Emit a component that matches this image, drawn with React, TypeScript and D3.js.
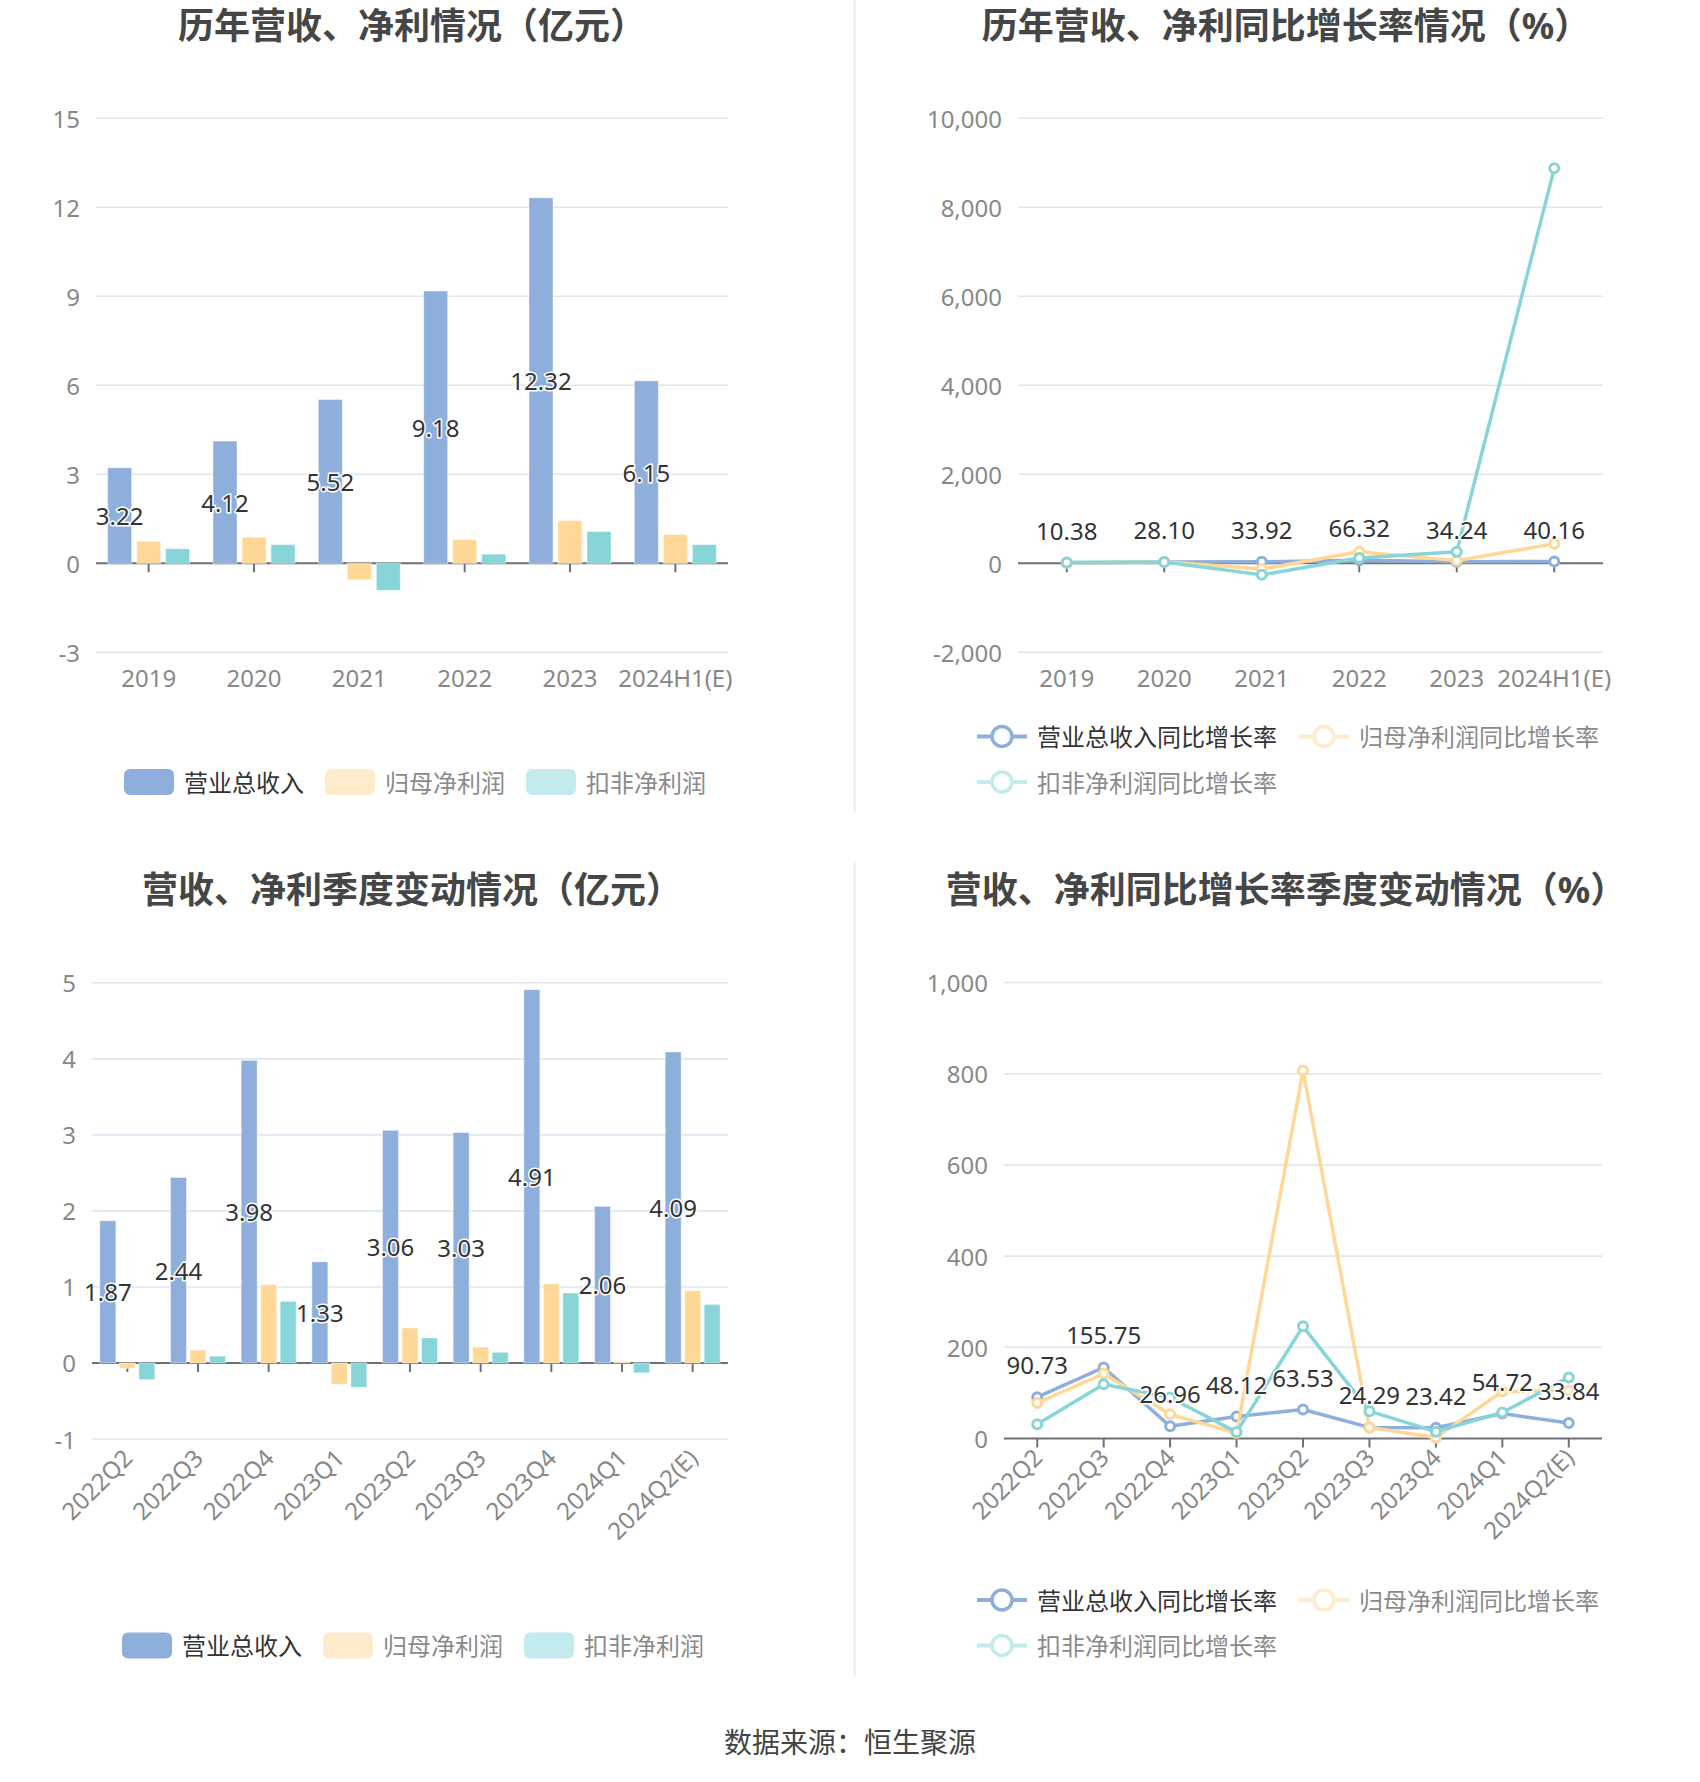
import React from 'react';
import * as d3 from 'd3';

// ---------- data ----------
const yearCats = ['2019', '2020', '2021', '2022', '2023', '2024H1(E)'];
const yearRevenue = [3.22, 4.12, 5.52, 9.18, 12.32, 6.15];
const yearNetProfit = [0.74, 0.88, -0.55, 0.8, 1.44, 0.97];
const yearDeductedProfit = [0.49, 0.63, -0.91, 0.31, 1.07, 0.63];

const yearRevenueGrowth = [10.38, 28.1, 33.92, 66.32, 34.24, 40.16];
const yearNetProfitGrowth = [15, 35, -130, 260, 60, 440];
const yearDeductedGrowth = [20, 30, -260, 120, 260, 8876];

const quarterCats = ['2022Q2', '2022Q3', '2022Q4', '2023Q1', '2023Q2', '2023Q3', '2023Q4', '2024Q1', '2024Q2(E)'];
const quarterRevenue = [1.87, 2.44, 3.98, 1.33, 3.06, 3.03, 4.91, 2.06, 4.09];
const quarterNetProfit = [-0.07, 0.17, 1.03, -0.28, 0.46, 0.21, 1.04, 0.02, 0.95];
const quarterDeductedProfit = [-0.22, 0.09, 0.81, -0.32, 0.33, 0.14, 0.92, -0.13, 0.77];

const quarterRevenueGrowth = [90.73, 155.75, 26.96, 48.12, 63.53, 24.29, 23.42, 54.72, 33.84];
const quarterNetProfitGrowth = [78, 142, 53, 12, 807, 24, 2, 103, 105];
const quarterDeductedGrowth = [31, 119, 90, 14, 246, 60, 15, 57, 134];

const barLegend = ['营业总收入', '归母净利润', '扣非净利润'];
const lineLegend = ['营业总收入同比增长率', '归母净利润同比增长率', '扣非净利润同比增长率'];

const yearBarTicks = [-3, 0, 3, 6, 9, 12, 15];
const yearLineTicks = [-2000, 0, 2000, 4000, 6000, 8000, 10000];
const quarterBarTicks = [-1, 0, 1, 2, 3, 4, 5];
const quarterLineTicks = [0, 200, 400, 600, 800, 1000];

const titles = [
  '历年营收、净利情况（亿元）',
  '历年营收、净利同比增长率情况（%）',
  '营收、净利季度变动情况（亿元）',
  '营收、净利同比增长率季度变动情况（%）',
];
const sourceText = '数据来源：恒生聚源';

// ---------- style ----------
const COLORS = ['#8eaedb', '#ffd897', '#87d5d8'];
const LEGEND_ICON = ['#8eaedb', '#ffebcc', '#c3eaec'];
const LEGEND_TEXT = ['#333333', '#8a8a8a', '#8a8a8a'];
const FONT = "'Noto Sans', 'Noto Sans CJK SC', sans-serif";
const GRID = '#e0e6f1';
const AXIS = '#6e7079';
const LABEL = '#888888';

const loc = d3.formatLocale({ decimal: '.', thousands: ',', grouping: [3], currency: ['', ''], minus: '-' });
const fmtComma = loc.format(',');
const fmtPlain = loc.format('');
const fmt2 = loc.format('.2f');

type Geo = {
  x0: number; x1: number; yTop: number; yBottom: number;
  title: string; titleX: number; titleY: number;
  rotate: boolean;
};

function Title({ text, x, y }: { text: string; x: number; y: number }) {
  return (
    <text x={x} y={y} textAnchor="middle" dominantBaseline="central" fontSize={36} fontWeight={700}
      fill="#464646" fontFamily={FONT}>{text}</text>
  );
}

function XLabels({ cats, xc, yBottom, rotate }: { cats: string[]; xc: (c: string) => number; yBottom: number; rotate: boolean }) {
  return (
    <g>
      {cats.map((c) =>
        rotate ? (
          <text key={c} transform={`translate(${xc(c)},${yBottom + 14}) rotate(-45)`} textAnchor="end"
            dominantBaseline="central" fontSize={24} fill={LABEL} fontFamily={FONT}>{c}</text>
        ) : (
          <text key={c} x={xc(c)} y={yBottom + 25} textAnchor="middle" dominantBaseline="central"
            fontSize={24} fill={LABEL} fontFamily={FONT}>{c}</text>
        )
      )}
    </g>
  );
}

function YGrid({ ticks, y, x0, x1, fmt }: { ticks: number[]; y: d3.ScaleLinear<number, number>; x0: number; x1: number; fmt: (n: number) => string }) {
  return (
    <g>
      {ticks.map((t) => (
        <g key={t}>
          <line x1={x0} x2={x1} y1={y(t)} y2={y(t)} stroke={GRID} strokeWidth={1.6} />
          <text x={x0 - 16} y={y(t)} textAnchor="end" dominantBaseline="central" fontSize={24}
            fill={LABEL} fontFamily={FONT}>{fmt(t)}</text>
        </g>
      ))}
    </g>
  );
}

function BarLegend({ cx, cy }: { cx: number; cy: number }) {
  const iconW = 50, iconH = 26, pad = 10, gap = 21, fs = 24;
  const widths = barLegend.map((s) => iconW + pad + s.length * fs);
  const total = d3.sum(widths) + gap * (widths.length - 1);
  let x = cx - total / 2;
  return (
    <g>
      {barLegend.map((s, i) => {
        const x0 = x;
        x += widths[i] + gap;
        return (
          <g key={s}>
            <rect x={x0} y={cy - iconH / 2} width={iconW} height={iconH} rx={6} fill={LEGEND_ICON[i]} />
            <text x={x0 + iconW + pad} y={cy} dominantBaseline="central" fontSize={fs} fill={LEGEND_TEXT[i]}
              fontFamily={FONT}>{s}</text>
          </g>
        );
      })}
    </g>
  );
}

function LineLegend({ left, cy }: { left: number; cy: number }) {
  const iconW = 50, pad = 10, gap = 22, fs = 24, rowH = 45.5;
  const pos = [
    { x: left, y: cy },
    { x: left + iconW + pad + lineLegend[0].length * fs + gap, y: cy },
    { x: left, y: cy + rowH },
  ];
  return (
    <g>
      {lineLegend.map((s, i) => (
        <g key={s}>
          <line x1={pos[i].x} x2={pos[i].x + iconW} y1={pos[i].y} y2={pos[i].y} stroke={LEGEND_ICON[i]} strokeWidth={4} />
          <circle cx={pos[i].x + iconW / 2} cy={pos[i].y} r={10} fill="#fff" stroke={LEGEND_ICON[i]} strokeWidth={3.5} />
          <text x={pos[i].x + iconW + pad} y={pos[i].y} dominantBaseline="central" fontSize={fs}
            fill={LEGEND_TEXT[i]} fontFamily={FONT}>{s}</text>
        </g>
      ))}
    </g>
  );
}

function BarPanel({ geo, cats, series, ticks, barW, gap, legendY }: {
  geo: Geo; cats: string[]; series: number[][]; ticks: number[]; barW: number; gap: number; legendY: number;
}) {
  const x = d3.scaleBand<string>().domain(cats).range([geo.x0, geo.x1]);
  const y = d3.scaleLinear().domain([ticks[0], ticks[ticks.length - 1]]).range([geo.yBottom, geo.yTop]);
  const xc = (c: string) => (x(c) as number) + x.bandwidth() / 2;
  const groupW = series.length * barW + (series.length - 1) * gap;
  const y0 = y(0);
  return (
    <g>
      <Title text={geo.title} x={geo.titleX} y={geo.titleY} />
      <YGrid ticks={ticks.filter((t) => t !== 0)} y={y} x0={geo.x0} x1={geo.x1} fmt={fmtPlain} />
      <text x={geo.x0 - 16} y={y0} textAnchor="end" dominantBaseline="central" fontSize={24} fill={LABEL} fontFamily={FONT}>0</text>
      <line x1={geo.x0} x2={geo.x1} y1={y0} y2={y0} stroke={AXIS} strokeWidth={2} />
      {cats.map((c) => (
        <line key={c} x1={xc(c)} x2={xc(c)} y1={y0} y2={y0 + 9} stroke={AXIS} strokeWidth={2} />
      ))}
      {series.map((vals, s) => (
        <g key={s}>
          {vals.map((v, i) => {
            const bx = xc(cats[i]) - groupW / 2 + s * (barW + gap);
            return (
              <rect key={i} x={bx} y={Math.min(y(v), y0)} width={barW} height={Math.abs(y(v) - y0)}
                fill={COLORS[s]} stroke="rgba(255,255,255,0.45)" strokeWidth={1} />
            );
          })}
        </g>
      ))}
      {series[0].map((v, i) => {
        const bx = xc(cats[i]) - groupW / 2 + barW / 2;
        return (
          <text key={i} x={bx} y={(y(v) + y0) / 2} textAnchor="middle" dominantBaseline="central" fontSize={24}
            fill="#333" stroke="#fff" strokeWidth={3} paintOrder="stroke" fontFamily={FONT}>{fmt2(v)}</text>
        );
      })}
      <XLabels cats={cats} xc={xc} yBottom={geo.yBottom} rotate={geo.rotate} />
      <BarLegend cx={(geo.x0 + geo.x1) / 2 + 3} cy={legendY} />
    </g>
  );
}

function LinePanel({ geo, cats, series, ticks, legendLeft, legendY }: {
  geo: Geo; cats: string[]; series: number[][]; ticks: number[]; legendLeft: number; legendY: number;
}) {
  const x = d3.scaleBand<string>().domain(cats).range([geo.x0, geo.x1]);
  const y = d3.scaleLinear().domain([ticks[0], ticks[ticks.length - 1]]).range([geo.yBottom, geo.yTop]);
  const xc = (c: string) => (x(c) as number) + x.bandwidth() / 2;
  const y0 = y(0);
  const line = d3.line<number>().x((_, i) => xc(cats[i])).y((v) => y(v));
  return (
    <g>
      <Title text={geo.title} x={geo.titleX} y={geo.titleY} />
      <YGrid ticks={ticks.filter((t) => t !== 0)} y={y} x0={geo.x0} x1={geo.x1} fmt={fmtComma} />
      <text x={geo.x0 - 16} y={y0} textAnchor="end" dominantBaseline="central" fontSize={24} fill={LABEL} fontFamily={FONT}>0</text>
      <line x1={geo.x0} x2={geo.x1} y1={y0} y2={y0} stroke={AXIS} strokeWidth={2} />
      {cats.map((c) => (
        <line key={c} x1={xc(c)} x2={xc(c)} y1={y0} y2={y0 + 9} stroke={AXIS} strokeWidth={2} />
      ))}
      {series.map((vals, s) => (
        <g key={s}>
          <path d={line(vals) as string} fill="none" stroke={COLORS[s]} strokeWidth={3.5} strokeLinejoin="round" />
          {vals.map((v, i) => (
            <circle key={i} cx={xc(cats[i])} cy={y(v)} r={4.5} fill="#fff" stroke={COLORS[s]} strokeWidth={3} />
          ))}
        </g>
      ))}
      {series[0].map((v, i) => (
        <text key={i} x={xc(cats[i])} y={y(v) - 23} textAnchor="middle" fontSize={24} fill="#333" stroke="#fff"
          strokeWidth={3} paintOrder="stroke" fontFamily={FONT}>{fmt2(v)}</text>
      ))}
      <XLabels cats={cats} xc={xc} yBottom={geo.yBottom} rotate={geo.rotate} />
      <LineLegend left={legendLeft} cy={legendY} />
    </g>
  );
}

export default function App() {
  const W = 1700, H = 1782;
  const g1: Geo = { x0: 96, x1: 728, yTop: 118.3, yBottom: 652.3, title: titles[0], titleX: 412, titleY: 25, rotate: false };
  const g2: Geo = { x0: 1018, x1: 1603, yTop: 118.3, yBottom: 652.3, title: titles[1], titleX: 1286, titleY: 25, rotate: false };
  const g3: Geo = { x0: 92, x1: 728, yTop: 982.8, yBottom: 1439, title: titles[2], titleX: 412, titleY: 889, rotate: true };
  const g4: Geo = { x0: 1004, x1: 1602, yTop: 982.5, yBottom: 1438.5, title: titles[3], titleX: 1286, titleY: 889, rotate: true };
  return (
    <svg width={W} height={H} viewBox={`0 0 ${W} ${H}`}
      style={{ position: 'absolute', left: 0, top: 0, background: '#fff', display: 'block' }}>
      <rect width={W} height={H} fill="#fff" />
      <line x1={854.5} x2={854.5} y1={0} y2={812} stroke="#eeeeee" strokeWidth={2} />
      <line x1={854.5} x2={854.5} y1={861} y2={1676} stroke="#eeeeee" strokeWidth={2} />
      <BarPanel geo={g1} cats={yearCats} series={[yearRevenue, yearNetProfit, yearDeductedProfit]}
        ticks={yearBarTicks} barW={24} gap={5} legendY={782} />
      <LinePanel geo={g2} cats={yearCats} series={[yearRevenueGrowth, yearNetProfitGrowth, yearDeductedGrowth]}
        ticks={yearLineTicks} legendLeft={977} legendY={736.5} />
      <BarPanel geo={g3} cats={quarterCats} series={[quarterRevenue, quarterNetProfit, quarterDeductedProfit]}
        ticks={quarterBarTicks} barW={16} gap={3.5} legendY={1645.5} />
      <LinePanel geo={g4} cats={quarterCats} series={[quarterRevenueGrowth, quarterNetProfitGrowth, quarterDeductedGrowth]}
        ticks={quarterLineTicks} legendLeft={977} legendY={1600} />
      <text x={850} y={1742} textAnchor="middle" dominantBaseline="central" fontSize={28} fill="#444"
        fontFamily={FONT}>{sourceText}</text>
    </svg>
  );
}
